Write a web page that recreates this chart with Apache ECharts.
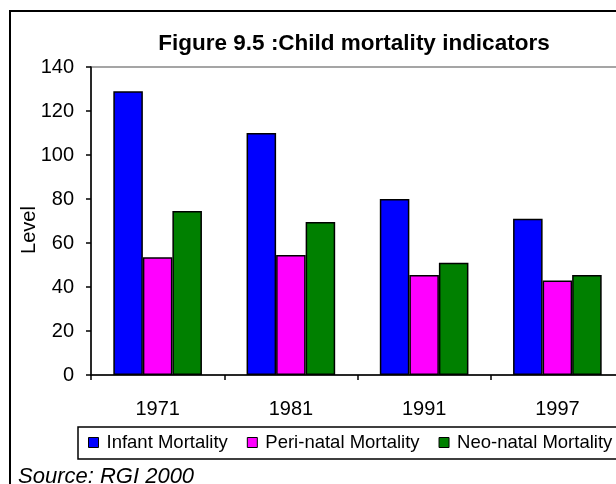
<!DOCTYPE html>
<html>
<head>
<meta charset="utf-8">
<script src="https://cdn.jsdelivr.net/npm/echarts@6/dist/echarts.min.js"></script>
<style>
  html, body { margin: 0; padding: 0; background: #fff; overflow: hidden; }
  #chart { width: 640px; height: 484px; }
</style>
</head>
<body>
<div id="chart"></div>
<script>

// 資料

const years = ['1971', '1981', '1991', '1997'];
const infantMortality = [129, 110, 80, 71];
const periNatalMortality = [53.5, 54.5, 45.5, 43];
const neoNatalMortality = [74.5, 69.5, 51, 45.5];

const levelMin = 0;
const levelMax = 140;
const levelStep = 20;

const seriesNames = ['Infant Mortality', 'Peri-natal Mortality', 'Neo-natal Mortality'];
const seriesColors = ['#0000ff', '#ff00ff', '#008000'];

const font = 'Arial, "Liberation Sans", sans-serif';

const chart = echarts.init(document.querySelector('#chart'));

const option = {
    animation: false,
    color: seriesColors,
    title: {
        text: 'Figure 9.5 :Child mortality indicators',
        left: 349,
        top: 27,
        textAlign: 'center',
        textStyle: { fontFamily: font, fontSize: 22.5, fontWeight: 'bold', color: '#000' }
    },
    grid: {
        left: 91,
        top: 67,
        width: 533,
        height: 308,
        show: true,
        borderColor: '#888',
        borderWidth: 1.5
    },
    legend: {
        left: 78,
        top: 427,
        width: 600,
        icon: 'rect',
        itemWidth: 10,
        itemHeight: 10,
        itemGap: 19,
        padding: [6, 16, 7, 10],
        borderColor: '#000',
        borderWidth: 1.5,
        backgroundColor: '#fff',
        textStyle: { fontFamily: font, fontSize: 18.5, color: '#000', padding: [0, 0, 0, 3] },
        itemStyle: { borderColor: '#000', borderWidth: 1 }
    },
    xAxis: {
        type: 'category',
        data: years,
        axisLine: { lineStyle: { color: '#000', width: 1.5 } },
        axisTick: { show: true, length: 5, lineStyle: { color: '#000', width: 1.5 } },
        axisLabel: { fontFamily: font, fontSize: 20, color: '#000', margin: 24 }
    },
    yAxis: {
        type: 'value',
        min: levelMin,
        max: levelMax,
        interval: levelStep,
        name: 'Level',
        nameLocation: 'middle',
        nameGap: 52,
        nameMoveOverlap: false,
        nameTextStyle: { fontFamily: font, fontSize: 20, color: '#000', padding: [0, 18, 0, 0] },
        axisLine: { show: true, lineStyle: { color: '#000', width: 1.5 } },
        axisTick: { show: true, length: 5, lineStyle: { color: '#000', width: 1.5 } },
        axisLabel: { fontFamily: font, fontSize: 20, color: '#000', margin: 17 },
        splitLine: { show: false }
    },
    series: [infantMortality, periNatalMortality, neoNatalMortality].map((data, i) => ({
        name: seriesNames[i],
        type: 'bar',
        data,
        barGap: '0%',
        barCategoryGap: '33.5%',
        itemStyle: { borderColor: '#000', borderWidth: 1.5 }
    })),
    graphic: [
        {
            type: 'rect',
            shape: { x: 10, y: 11, width: 720, height: 520 },
            style: { fill: 'none', stroke: '#000', lineWidth: 2 },
            z: 100
        },
        {
            type: 'text',
            left: 18,
            top: 466,
            style: { text: 'Source: RGI 2000', font: 'italic 22px Arial, "Liberation Sans", sans-serif', fill: '#000' }
        }
    ]
};

option && chart.setOption(option);

</script>
</body>
</html>
